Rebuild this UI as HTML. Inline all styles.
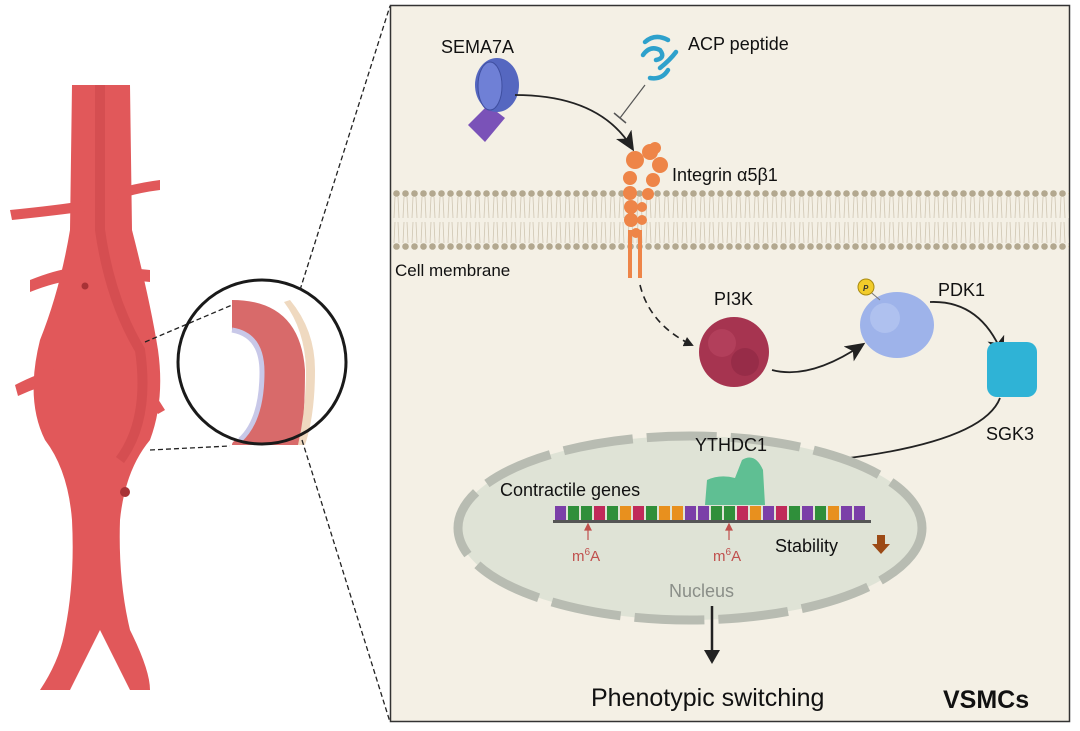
<!DOCTYPE html>
<html><head><meta charset="utf-8"><style>
html,body{margin:0;padding:0;background:#fff;}
svg{display:block;font-family:"Liberation Sans",sans-serif;}
</style></head><body>
<svg width="1080" height="731" viewBox="0 0 1080 731" xmlns="http://www.w3.org/2000/svg">
<defs>
<marker id="ah" markerWidth="10" markerHeight="10" refX="8" refY="5" orient="auto" markerUnits="userSpaceOnUse"><path d="M0,0 L10,5 L0,10 z" fill="#222"/></marker>
<marker id="ahb" markerWidth="20" markerHeight="18" refX="16" refY="9" orient="auto" markerUnits="userSpaceOnUse"><path d="M0,0 L20,9 L0,18 L5,9 z" fill="#222"/></marker>
<pattern id="mem" width="9" height="60" patternUnits="userSpaceOnUse" x="392" y="190">
<circle cx="4.5" cy="3.5" r="3.3" fill="#b3a88f"/>
<circle cx="4.5" cy="56.5" r="3.3" fill="#b3a88f"/>
<path d="M3,7 L2,28 M6,7 L7,28 M3,32 L2,53 M6,32 L7,53" stroke="#cfc6b2" stroke-width="0.8" fill="none"/>
</pattern>
</defs>

<!-- Aorta -->
<g fill="#e1585a">
<path d="M72,85 L130,85 L132,230 Q150,300 158,350 Q165,400 150,440 Q125,470 120,520 Q118,580 130,630 Q150,670 150,690 L130,690 Q105,640 100,630 Q95,640 70,690 L40,690 Q60,660 65,630 Q75,580 72,520 Q68,470 45,440 Q25,400 40,340 Q60,290 70,230 Z"/>
<path d="M10,210 Q60,205 90,200 Q120,185 160,180 L160,190 Q120,195 95,210 Q60,215 12,220 Z"/>
<path d="M30,280 Q55,270 72,268 L75,280 Q55,282 30,292 Z"/>
<path d="M130,268 L150,270 L150,282 L130,280 Z"/>
<path d="M15,385 Q40,372 60,368 L62,380 Q40,386 18,396 Z"/>
<path d="M130,368 Q150,385 165,410 L158,414 Q142,392 128,380 Z"/>
<path d="M100,450 Q115,470 125,490 L118,496 Q108,476 96,458 Z"/>
</g>
<path d="M100,85 L100,230 Q110,300 140,350 Q150,420 120,460" stroke="#c94448" stroke-width="10" fill="none" opacity="0.5"/>
<circle cx="125" cy="492" r="5" fill="#a83236"/>
<circle cx="85" cy="286" r="3.5" fill="#a83236"/>

<!-- zoom circle -->
<line x1="145" y1="342" x2="232" y2="305" stroke="#222" stroke-width="1.3" stroke-dasharray="5,3"/>
<line x1="150" y1="450" x2="230" y2="446" stroke="#222" stroke-width="1.3" stroke-dasharray="5,3"/>
<path d="M232,300 Q300,300 305,370 Q305,420 300,445 L232,445 Q232,440 240,440 Q262,420 262,372 Q260,330 232,330 Z" fill="#d86a6a"/>
<path d="M290,300 Q315,330 315,370 Q315,415 305,445 L298,445 Q306,410 306,370 Q305,330 284,302 Z" fill="#efd9c0"/>
<path d="M232,330 Q262,335 262,372 Q262,420 240,440" stroke="#c8c8e8" stroke-width="5" fill="none"/>
<ellipse cx="262" cy="362" rx="84" ry="82" fill="none" stroke="#1a1a1a" stroke-width="3"/>
<line x1="300" y1="290" x2="390" y2="6" stroke="#222" stroke-width="1.3" stroke-dasharray="5,3"/>
<line x1="302" y1="440" x2="390" y2="722" stroke="#222" stroke-width="1.3" stroke-dasharray="5,3"/>

<!-- panel -->
<rect x="390.5" y="5.5" width="679" height="716" fill="#f4f0e5" stroke="#333" stroke-width="1.5"/>
<rect x="392" y="190" width="677" height="60" fill="url(#mem)"/>
<text x="395" y="276" font-size="17" fill="#111">Cell membrane</text>

<!-- SEMA7A -->
<text x="441" y="53" font-size="18" fill="#111">SEMA7A</text>
<path d="M468,125 L488,105 L505,118 L485,142 Z" fill="#7a52b8"/>
<ellipse cx="497" cy="85" rx="22" ry="27" fill="#5567c0"/>
<ellipse cx="490" cy="86" rx="12" ry="24" fill="#6f80d6" stroke="#3f4fa0"/>
<path d="M515,95 Q600,95 632,148" stroke="#222" stroke-width="1.8" fill="none" marker-end="url(#ahb)"/>

<!-- ACP -->
<text x="688" y="50" font-size="18" fill="#111">ACP peptide</text>
<path d="M645,42 Q655,33 668,40 M643,55 Q650,45 660,50 Q666,58 656,60 M660,68 Q670,60 676,52 M650,78 Q662,80 668,70" stroke="#2ea1cc" stroke-width="4.5" fill="none" stroke-linecap="round"/>
<line x1="645" y1="85" x2="620" y2="118" stroke="#555" stroke-width="1.2"/>
<line x1="614" y1="113" x2="626" y2="123" stroke="#555" stroke-width="1.5"/>

<!-- Integrin -->
<g fill="#ee8548">
<circle cx="635" cy="160" r="9"/><circle cx="650" cy="152" r="8"/><circle cx="660" cy="165" r="8"/><circle cx="655" cy="148" r="6"/>
<circle cx="630" cy="178" r="7"/><circle cx="630" cy="193" r="7"/><circle cx="631" cy="207" r="7"/><circle cx="631" cy="220" r="7"/>
<circle cx="653" cy="180" r="7"/><circle cx="648" cy="194" r="6"/><circle cx="642" cy="207" r="5"/><circle cx="642" cy="220" r="5"/>
<circle cx="636" cy="233" r="5"/>
<rect x="628" y="230" width="4" height="48"/><rect x="638" y="230" width="4" height="48"/>
</g>
<text x="672" y="181" font-size="18" fill="#111">Integrin α5β1</text>

<!-- dashed -->
<path d="M640,285 Q650,325 692,345" stroke="#222" stroke-width="1.6" fill="none" stroke-dasharray="7,5" marker-end="url(#ah)"/>

<!-- PI3K -->
<text x="714" y="305" font-size="18" fill="#111">PI3K</text>
<circle cx="734" cy="352" r="35" fill="#a63450"/>
<circle cx="722" cy="343" r="14" fill="#b84460" opacity="0.7"/>
<circle cx="745" cy="362" r="14" fill="#922a44" opacity="0.7"/>
<path d="M772,370 Q810,380 862,345" stroke="#222" stroke-width="1.8" fill="none" marker-end="url(#ahb)"/>

<!-- PDK1 -->
<text x="938" y="296" font-size="18" fill="#111">PDK1</text>
<ellipse cx="897" cy="325" rx="37" ry="33" fill="#9eb3ea"/>
<circle cx="885" cy="318" r="15" fill="#b3c4f0" opacity="0.8"/>
<line x1="867" y1="289" x2="880" y2="300" stroke="#777"/>
<circle cx="866" cy="287" r="8" fill="#f2cc2a" stroke="#a88a10"/>
<text x="863" y="291" font-size="8" font-style="italic" font-weight="bold" fill="#333">P</text>
<path d="M930,302 Q980,300 1002,353" stroke="#222" stroke-width="1.8" fill="none" marker-end="url(#ahb)"/>

<!-- SGK3 -->
<rect x="987" y="342" width="50" height="55" rx="10" fill="#2fb3d6"/>
<text x="986" y="440" font-size="18" fill="#111">SGK3</text>
<path d="M1000,398 Q980,450 780,465" stroke="#222" stroke-width="1.8" fill="none" marker-end="url(#ahb)"/>

<!-- nucleus -->
<ellipse cx="690" cy="528" rx="232" ry="92" fill="#dfe3d6" stroke="#b8bcb2" stroke-width="9" stroke-dasharray="70,14"/>
<text x="695" y="451" font-size="18" fill="#111">YTHDC1</text>
<path d="M705,505 L707,480 Q720,474 735,478 L742,460 Q755,452 763,470 L765,505 Z" fill="#5fbf93"/>
<text x="500" y="496" font-size="18" fill="#111">Contractile genes</text>
<g id="rna">
<rect x="553" y="520" width="318" height="3" fill="#555"/>
</g>
<g font-size="7" fill="#fff" text-anchor="middle">
<rect x="555" y="506" width="11" height="14" fill="#7b3fa8"/><rect x="568" y="506" width="11" height="14" fill="#2f8f3a"/><rect x="581" y="506" width="11" height="14" fill="#2f8f3a"/><rect x="594" y="506" width="11" height="14" fill="#c02a5a"/><rect x="607" y="506" width="11" height="14" fill="#2f8f3a"/><rect x="620" y="506" width="11" height="14" fill="#e8901e"/><rect x="633" y="506" width="11" height="14" fill="#c02a5a"/><rect x="646" y="506" width="11" height="14" fill="#2f8f3a"/><rect x="659" y="506" width="11" height="14" fill="#e8901e"/><rect x="672" y="506" width="11" height="14" fill="#e8901e"/><rect x="685" y="506" width="11" height="14" fill="#7b3fa8"/><rect x="698" y="506" width="11" height="14" fill="#7b3fa8"/><rect x="711" y="506" width="11" height="14" fill="#2f8f3a"/><rect x="724" y="506" width="11" height="14" fill="#2f8f3a"/><rect x="737" y="506" width="11" height="14" fill="#c02a5a"/><rect x="750" y="506" width="11" height="14" fill="#e8901e"/><rect x="763" y="506" width="11" height="14" fill="#7b3fa8"/><rect x="776" y="506" width="11" height="14" fill="#c02a5a"/><rect x="789" y="506" width="11" height="14" fill="#2f8f3a"/><rect x="802" y="506" width="11" height="14" fill="#7b3fa8"/><rect x="815" y="506" width="11" height="14" fill="#2f8f3a"/><rect x="828" y="506" width="11" height="14" fill="#e8901e"/><rect x="841" y="506" width="11" height="14" fill="#7b3fa8"/><rect x="854" y="506" width="11" height="14" fill="#7b3fa8"/>
</g>
<g stroke="#c0504d" stroke-width="1.2" fill="#c0504d">
<line x1="588" y1="540" x2="588" y2="527"/><path d="M585,530 L588,524 L591,530 z"/>
<line x1="729" y1="540" x2="729" y2="527"/><path d="M726,530 L729,524 L732,530 z"/>
</g>
<text x="572" y="561" font-size="15" fill="#c0504d">m<tspan font-size="10" dy="-6">6</tspan><tspan dy="6">A</tspan></text>
<text x="713" y="561" font-size="15" fill="#c0504d">m<tspan font-size="10" dy="-6">6</tspan><tspan dy="6">A</tspan></text>
<text x="775" y="552" font-size="18" fill="#111">Stability</text>
<path d="M877,535 L885,535 L885,544 L890,544 L881,554 L872,544 L877,544 Z" fill="#9c4a16"/>
<text x="669" y="597" font-size="18" fill="#8a8e88">Nucleus</text>

<line x1="712" y1="606" x2="712" y2="652" stroke="#222" stroke-width="2.5"/>
<path d="M704,650 L712,664 L720,650 Z" fill="#222"/>
<text x="591" y="706" font-size="25" fill="#111">Phenotypic switching</text>
<text x="943" y="708" font-size="25" font-weight="bold" fill="#111">VSMCs</text>
</svg>
</body></html>
